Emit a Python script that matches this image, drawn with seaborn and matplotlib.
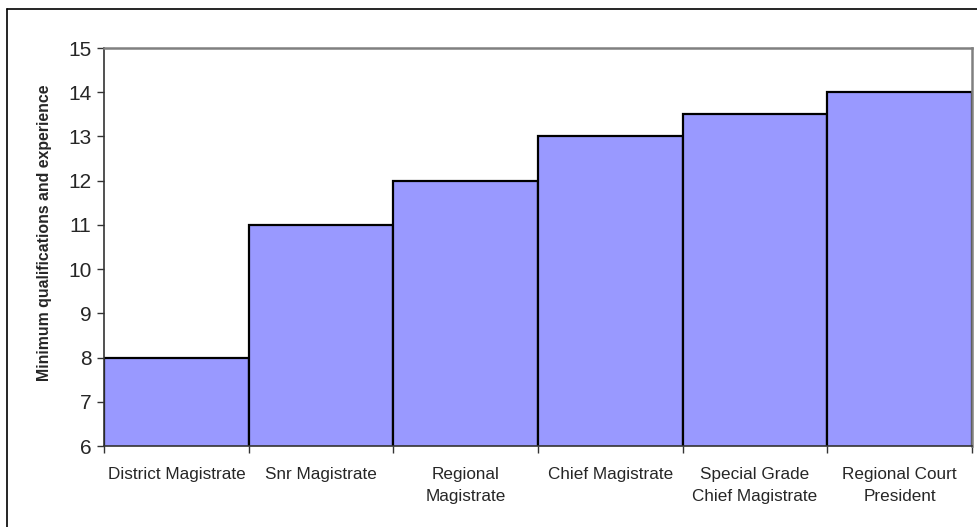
import matplotlib
matplotlib.use("Agg")
import matplotlib.pyplot as plt
from matplotlib.lines import Line2D
import seaborn as sns
import pandas as pd

categories = [
    "District Magistrate",
    "Snr Magistrate",
    "Regional\nMagistrate",
    "Chief Magistrate",
    "Special Grade\nChief Magistrate",
    "Regional Court\nPresident",
]
values = [8, 11, 12, 13, 13.5, 14]
y_ticks = [6, 7, 8, 9, 10, 11, 12, 13, 14, 15]

sns.set_theme(style="white")
plt.rcParams["font.family"] = ["Liberation Sans", "DejaVu Sans"]

df = pd.DataFrame({"rank": categories, "years": values})

fig = plt.figure(figsize=(9.77, 5.27), dpi=100)
ax = fig.add_axes([0.1065, 0.1537, 0.8884, 0.7552])

sns.barplot(data=df, x="rank", y="years", ax=ax, color="#9999FF",
            saturation=1, width=1.0, edgecolor="black", linewidth=1.6)

ax.set_ylim(6, 15)
ax.set_xlim(-0.5, len(categories) - 0.5)
ax.set_yticks(y_ticks)
ax.set_yticklabels([str(t) for t in y_ticks], fontsize=15)

ax.set_xticks(range(len(categories)))
ax.set_xticklabels(categories, fontsize=12.3, linespacing=1.6)
ax.set_xticks([i - 0.5 for i in range(len(categories) + 1)], minor=True)
ax.tick_params(axis="x", which="major", length=0, pad=15)
ax.tick_params(axis="x", which="minor", length=5, width=1, color="#333333",
               direction="out", bottom=True)
ax.tick_params(axis="y", which="major", length=5, width=1, color="#333333",
               direction="out", left=True, pad=4)

ax.set_xlabel("")
ax.set_ylabel("Minimum qualifications and experience", fontsize=11.4,
              fontweight="bold")
ax.yaxis.set_label_coords(-0.0596, 0.535)

for side in ("top", "right"):
    ax.spines[side].set_color("#808080")
    ax.spines[side].set_linewidth(1.8)
for side in ("left", "bottom"):
    ax.spines[side].set_color("#333333")
    ax.spines[side].set_linewidth(1.2)

# outer chart frame (left and top edges)
fig.add_artist(Line2D([0.0072, 0.0072], [0.983, -0.01], transform=fig.transFigure,
                      color="black", linewidth=1.2))
fig.add_artist(Line2D([0.0072, 1.01], [0.983, 0.983], transform=fig.transFigure,
                      color="black", linewidth=1.2))

fig.savefig("out.png", dpi=100)
